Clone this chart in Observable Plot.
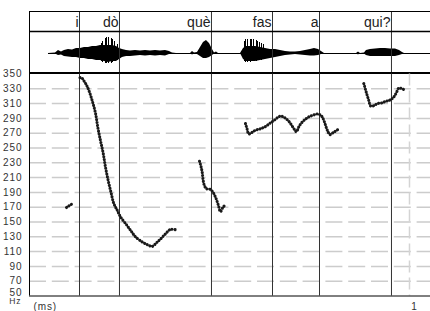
<!DOCTYPE html>
<html><head><meta charset="utf-8">
<script src="https://cdn.jsdelivr.net/npm/d3@7"></script>
<script src="https://cdn.jsdelivr.net/npm/@observablehq/plot@0.6"></script>
<style>
html,body{margin:0;padding:0;background:#fff;}
#chart{position:relative;width:430px;height:311px;overflow:hidden;}
#chart svg{position:absolute;left:0;}
#pitch text{letter-spacing:0.9px;}
</style></head><body><div id="chart"></div>
<script>
// ---- data ----
const words = ["i", "dò", "què", "fas", "a", "qui?"];
const wordEnds = [0.1316, 0.2368, 0.4789, 0.6395, 0.7632, 0.9526];   // s
const hzTicks = [350, 330, 310, 290, 270, 250, 230, 210, 190, 170, 150, 130, 110, 90, 70, 50];
const gridHz = [330, 310, 290, 270, 250, 230, 210, 190, 170, 150, 130, 110, 90, 70];
const timeTicks = [1];
const timeMax = 1.0553;

// pitch contour (s, Hz)
const seg1T = [0.0974, 0.1013, 0.1053, 0.1092, 0.1132];
const seg1Hz = [169.6, 171.0, 172.3, 173.6, 174.3];
const seg2T = [0.1329, 0.1368, 0.1429, 0.1500, 0.1561, 0.1650, 0.1737, 0.1797, 0.1868, 0.1939, 0.2000, 0.2071, 0.2150, 0.2218, 0.2308, 0.2395, 0.2571, 0.2684, 0.2789, 0.2966, 0.3079, 0.3229, 0.3342, 0.3447, 0.3579, 0.3711, 0.3887];
const seg2Hz = [345, 345, 341, 335, 328, 314, 297, 278, 260, 243, 224, 206, 189, 175, 166, 157, 145, 137, 130, 123, 120, 117, 122, 127, 134, 140, 139];
const seg3T = [0.4474, 0.4513, 0.4545, 0.4571, 0.4605, 0.4658, 0.4763, 0.4842, 0.4908, 0.4974, 0.5026, 0.5092, 0.5171];
const seg3Hz = [232, 225, 217, 206, 199, 195, 194, 189, 182, 172, 164, 170, 174];
const seg4T = [0.5684, 0.5724, 0.5771, 0.5855, 0.5947, 0.6079, 0.6211, 0.6342, 0.6429, 0.6526, 0.6605, 0.6684, 0.6763, 0.6842, 0.6921, 0.6987, 0.7026, 0.7092, 0.7176, 0.7263, 0.7350, 0.7447, 0.7571, 0.7645, 0.7703, 0.7763, 0.7808, 0.7855, 0.7903, 0.7961, 0.8008, 0.8079, 0.8139];
const seg4Hz = [283, 276, 269, 271, 274, 276, 279, 284, 287, 291, 293, 292, 289, 285, 279, 274, 272, 279, 285, 289, 292, 294, 296, 295, 292, 285, 278, 272, 268, 270, 271, 274, 275];
const seg5T = [0.8797, 0.8842, 0.8887, 0.8929, 0.8974, 0.9053, 0.9158, 0.9282, 0.9368, 0.9455, 0.9526, 0.9587, 0.9658, 0.9718, 0.9808, 0.9895];
const seg5Hz = [337, 329, 321, 314, 307, 307, 310, 311, 313, 314, 316, 319, 325, 331, 330, 328];

// waveform envelope (s, amplitude above / below baseline)
const waveT = [0.05, 0.0684, 0.0763, 0.0842, 0.0921, 0.1026, 0.1132, 0.1237, 0.1342, 0.1447, 0.1553, 0.1658, 0.1763, 0.1868, 0.1974, 0.2079, 0.2184, 0.2289, 0.2368, 0.2447, 0.2553, 0.2658, 0.2789, 0.2921, 0.3053, 0.3184, 0.3316, 0.3447, 0.3579, 0.3684, 0.3763, 0.3868, 0.4237, 0.4289, 0.4342, 0.4421, 0.45, 0.4579, 0.4658, 0.4737, 0.4816, 0.4868, 0.4921, 0.4974, 0.5553, 0.5632, 0.5711, 0.5816, 0.5947, 0.6079, 0.6211, 0.6342, 0.6474, 0.6605, 0.6737, 0.6868, 0.7, 0.7132, 0.7263, 0.7395, 0.75, 0.7605, 0.7684, 0.7763, 0.8605, 0.8658, 0.8711, 0.8816, 0.8868, 0.8974, 0.9105, 0.9237, 0.9368, 0.95, 0.9632, 0.9737, 0.9816, 0.9868, 1.0553];
const waveHi = [0, 0.5, 3, 1.5, 3, 4, 3.5, 5, 5, 6, 6, 7, 7, 8, 8, 8, 8, 7, 5, 4, 3, 2.5, 3, 2.5, 3, 2.5, 3, 2.5, 3, 2, 0.5, 0, 0, 2, 0.5, 1, 6, 11, 13, 10, 4, 0.5, 1.5, 0, 0, 5, 7, 7, 7, 6, 5, 4, 4, 3, 2, 1.5, 1.5, 2, 3, 4, 5, 4, 2, 0, 0, 1.5, 0, 0.5, 3, 4, 4.5, 5, 5, 4.5, 4.5, 3, 1, 0, 0];
const waveLo = [0, 0.5, 2, 1.5, 3, 3.5, 4, 4, 5, 5, 6, 6, 7, 7, 8, 9, 8, 8, 6, 4, 3, 3, 2.5, 2, 2.5, 2, 2.5, 2, 2.5, 1, 0.5, 0, 0, 1.5, 0.5, 1, 3, 5, 5, 4, 2, 0.5, 1, 0, 0, 6, 8, 8, 8, 7, 6, 5, 4, 3, 2, 1.5, 1, 1.5, 2, 2.5, 2.5, 2, 1, 0, 0, 1.5, 0, 0.5, 2, 3, 3, 3, 3, 3, 3, 2, 1, 0, 0];
// voiced-burst striations
const spikeT = [0.1882, 0.1934, 0.1987, 0.2039, 0.2092, 0.2145, 0.2197, 0.2250, 0.2303, 0.5645, 0.5697, 0.5750, 0.5803, 0.5855, 0.5908, 0.5961, 0.6013, 0.6066, 0.6118, 0.6171];
const spikeHi = [10, 12, 15, 16, 16, 15, 14, 12, 9, 12, 14, 14, 14, 14, 14, 13, 12, 11, 10, 9];
const spikeLo = [8, 9, 10, 10, 10, 10, 9, 8, 7, 8, 9, 9, 9, 8, 8, 8, 7, 7, 7, 6];

// ---- tables ----
const segs = [[seg1T, seg1Hz], [seg2T, seg2Hz], [seg3T, seg3Hz], [seg4T, seg4Hz], [seg5T, seg5Hz]];
const pitch = segs.flatMap(([T, H], s) => T.map((t, j) => ({seg: s, t, hz: H[j]})));
const wave = waveT.map((t, i) => ({t, hi: waveHi[i], lo: waveLo[i]}));
const spikes = spikeT.map((t, i) => ({t, hi: spikeHi[i], lo: spikeLo[i]}));
const wordRows = words.map((w, i) => ({w, t: wordEnds[i]}));

const font = "'Liberation Sans', Arial, Helvetica, sans-serif";
const ROW_Y = 30.5; // centre of the word row in the top panel's units

const topPanel = Plot.plot({
  width: 430, height: 74, marginLeft: 29, marginRight: 0, marginTop: 11, marginBottom: 1,
  x: {domain: [0, timeMax], axis: null},
  y: {domain: [-20, 42], range: [73, 11], axis: null},
  style: {background: "transparent", fontFamily: font, overflow: "visible"},
  marks: [
    Plot.ruleY([0], {x1: waveT[0], x2: timeMax, stroke: "#000", strokeWidth: 1}),
    Plot.area(wave, {x1: "t", y1: d => -d.lo, y2: "hi", fill: "#000"}),
    Plot.ruleX(spikes, {x: "t", y1: d => -d.lo, y2: "hi", stroke: "#000", strokeWidth: 1, shapeRendering: "crispEdges"}),
    Plot.ruleX(wordEnds, {y1: -20, y2: 42, stroke: "#333", strokeWidth: 1}),
    Plot.ruleX([0], {y1: -20, y2: 42, stroke: "#000", strokeWidth: 1}),
    Plot.ruleY([42], {stroke: "#000", strokeWidth: 1}),
    Plot.ruleY([22], {stroke: "#000", strokeWidth: 1.5}),
    Plot.ruleY([-19.5], {stroke: "#000", strokeWidth: 2}),
    Plot.text(wordRows, {x: "t", y: ROW_Y, text: "w", textAnchor: "end", dx: -1, fontSize: 14, fill: "#222"})
  ]
});
topPanel.style.top = "0px";

const pitchPanel = Plot.plot({
  width: 430, height: 247, marginLeft: 29, marginRight: 0, marginTop: 9.5, marginBottom: 15.5,
  x: {domain: [0, timeMax], axis: null},
  y: {domain: [50, 350], axis: null},
  style: {background: "transparent", fontFamily: font, fontSize: "10px", overflow: "visible"},
  marks: [
    Plot.ruleY(gridHz, {stroke: "#cccccc", strokeWidth: 1.5, strokeDasharray: "17,5.8"}),
    Plot.ruleX(timeTicks, {stroke: "#d4d4d4", strokeWidth: 1.5, strokeDasharray: "12,5"}),
    Plot.ruleX(wordEnds, {stroke: "#333", strokeWidth: 1}),
    Plot.ruleX([0], {stroke: "#000", strokeWidth: 1}),
    Plot.ruleY([50], {stroke: "#000", strokeWidth: 1}),
    Plot.line(pitch, {x: "t", y: "hz", z: "seg", stroke: "#1a1a1a", strokeWidth: 3.1,
      strokeDasharray: "0.01,2.9", strokeLinecap: "round", curve: "catmull-rom"}),
    Plot.text(hzTicks.filter(d => d !== 50), {x: 0, y: d => d, text: d => String(d), textAnchor: "end", dx: -7, fill: "#333"}),
    Plot.text([50], {x: 0, y: d => d, text: d => String(d), textAnchor: "end", dx: -7, dy: -3.5, fill: "#333"}),
    Plot.text(["Hz"], {x: 0, y: 50, text: d => d, textAnchor: "end", dx: -8, dy: 5.5, fontSize: 8.5, fill: "#333"}),
    Plot.text(["(ms)"], {x: 0, y: 50, text: d => d, textAnchor: "start", dx: 4, dy: 10.5, fill: "#333"}),
    Plot.text(timeTicks, {x: d => d, y: 50, text: d => String(d), dx: 5, dy: 10.5, fill: "#333"})
  ]
});
pitchPanel.setAttribute("id", "pitch");
pitchPanel.style.top = "64px";

const root = document.getElementById("chart");
root.appendChild(topPanel);
root.appendChild(pitchPanel);
</script></body></html>
